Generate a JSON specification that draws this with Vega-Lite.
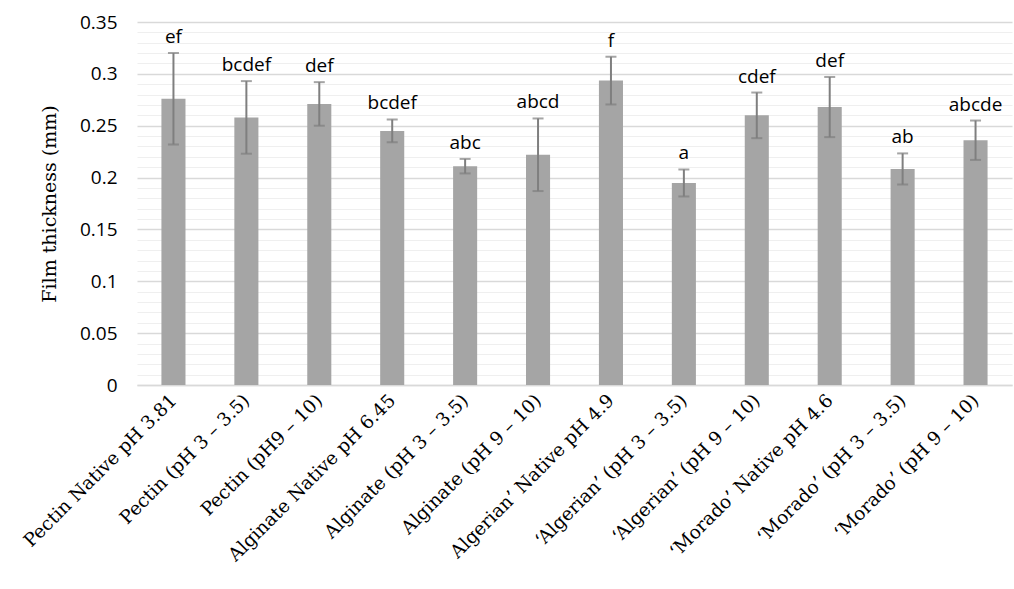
{
  "$schema": "https://vega.github.io/schema/vega-lite/v6.json",
  "autosize": {"type": "none"},
  "padding": {"left": 137, "top": 22, "right": 2, "bottom": 204},
  "width": 875,
  "height": 363,
  "background": "white",
  "data": {"values": [
    {"name": "Pectin Native pH 3.81", "mean": 0.276, "sd": 0.044, "grp": "ef"},
    {"name": "Pectin (pH 3 – 3.5)", "mean": 0.258, "sd": 0.035, "grp": "bcdef"},
    {"name": "Pectin (pH9 – 10)", "mean": 0.271, "sd": 0.021, "grp": "def"},
    {"name": "Alginate Native pH 6.45", "mean": 0.245, "sd": 0.011, "grp": "bcdef"},
    {"name": "Alginate (pH 3 – 3.5)", "mean": 0.211, "sd": 0.007, "grp": "abc"},
    {"name": "Alginate (pH 9 – 10)", "mean": 0.222, "sd": 0.035, "grp": "abcd"},
    {"name": "Algerian’ Native pH 4.9", "mean": 0.2935, "sd": 0.023, "grp": "f"},
    {"name": "‘Algerian’ (pH 3 – 3.5)", "mean": 0.1948, "sd": 0.013, "grp": "a"},
    {"name": "‘Algerian’ (pH 9 – 10)", "mean": 0.260, "sd": 0.022, "grp": "cdef"},
    {"name": "‘Morado’ Native pH 4.6", "mean": 0.268, "sd": 0.029, "grp": "def"},
    {"name": "‘Morado’ (pH 3 – 3.5)", "mean": 0.2083, "sd": 0.015, "grp": "ab"},
    {"name": "‘Morado’ (pH 9 – 10)", "mean": 0.236, "sd": 0.019, "grp": "abcde"}
  ]},
  "transform": [
    {"calculate": "datum.mean + datum.sd", "as": "hi"},
    {"calculate": "datum.mean - datum.sd", "as": "lo"}
  ],
  "encoding": {
    "x": {
      "field": "name", "type": "nominal", "sort": null,
      "scale": {"paddingInner": 0.67, "paddingOuter": 0.335},
      "axis": {
        "title": null, "labelAngle": -45, "labelAlign": "right", "labelBaseline": "middle",
        "labelFont": "DejaVu Serif", "labelFontSize": 18.5, "labelColor": "#000000",
        "labelPadding": 12, "ticks": false, "domainColor": "#d9d9d9", "domainWidth": 1.5,
        "labelLimit": 400
      }
    }
  },
  "layer": [
    {
      "mark": {"type": "rule", "opacity": 0},
      "encoding": {
        "y": {
          "field": "mean", "type": "quantitative",
          "scale": {"domain": [0, 0.35], "nice": false},
          "axis": {
            "orient": "left", "title": null, "labels": false, "ticks": false, "domain": false,
            "values": [0.01,0.02,0.03,0.04,0.06,0.07,0.08,0.09,0.11,0.12,0.13,0.14,0.16,0.17,0.18,0.19,0.21,0.22,0.23,0.24,0.26,0.27,0.28,0.29,0.31,0.32,0.33,0.34],
            "grid": true, "gridColor": "#efefef", "gridWidth": 1, "zindex": 0
          }
        }
      }
    },
    {
      "mark": {"type": "bar", "color": "#a5a5a5"},
      "encoding": {
        "y": {
          "field": "mean", "type": "quantitative",
          "scale": {"domain": [0, 0.35], "nice": false},
          "axis": {
            "orient": "left",
            "title": "Film thickness (mm)", "titleFont": "DejaVu Serif", "titleFontSize": 19,
            "titleFontWeight": "normal", "titleColor": "#000000", "titlePadding": 20,
            "values": [0, 0.05, 0.1, 0.15, 0.2, 0.25, 0.3, 0.35], "format": ".2~f",
            "labelFont": "Open Sans", "labelFontSize": 19, "labelColor": "#000000",
            "labelPadding": 20, "ticks": false, "domain": false,
            "grid": true, "gridColor": "#d9d9d9", "gridWidth": 1.5, "zindex": 0
          }
        }
      }
    },
    {
      "mark": {"type": "rule", "color": "#7f7f7f", "strokeWidth": 2},
      "encoding": {
        "y": {"field": "lo", "type": "quantitative", "axis": null},
        "y2": {"field": "hi"}
      }
    },
    {
      "mark": {"type": "tick", "color": "#7f7f7f", "thickness": 2, "size": 11},
      "encoding": {"y": {"field": "hi", "type": "quantitative", "axis": null}}
    },
    {
      "mark": {"type": "tick", "color": "#7f7f7f", "thickness": 2, "size": 11},
      "encoding": {"y": {"field": "lo", "type": "quantitative", "axis": null}}
    },
    {
      "mark": {"type": "text", "font": "Open Sans", "fontSize": 19, "color": "#000000", "baseline": "alphabetic", "dy": -10},
      "encoding": {
        "y": {"field": "hi", "type": "quantitative", "axis": null},
        "text": {"field": "grp"}
      }
    }
  ],
  "resolve": {"axis": {"y": "independent"}},
  "config": {"view": {"stroke": null}}
}
